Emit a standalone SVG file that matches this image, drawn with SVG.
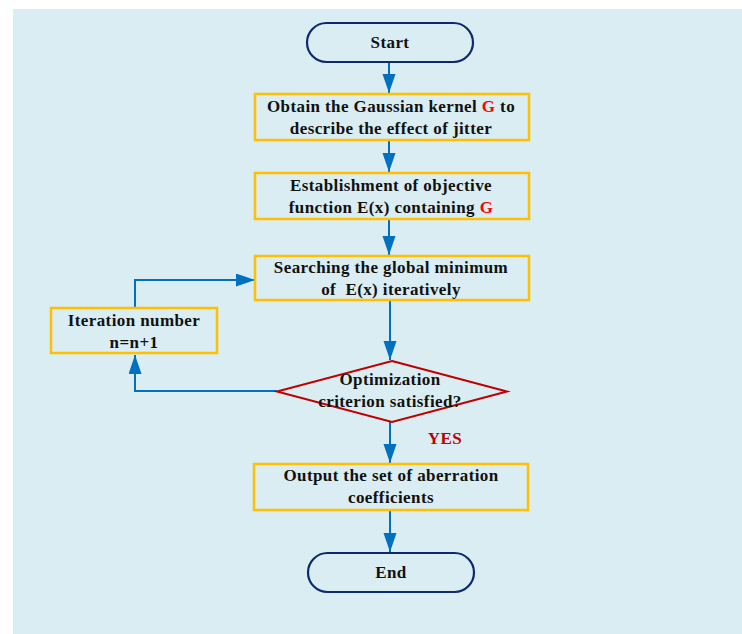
<svg xmlns="http://www.w3.org/2000/svg" width="742" height="634" viewBox="0 0 742 634">
<defs>
<style>
.bg{fill:#daedf3}
.term{fill:none;stroke:#0d2a6e;stroke-width:2.2}
.box{fill:none;stroke:#ffc000;stroke-width:2.5}
.dia{fill:none;stroke:#c00000;stroke-width:2}
.con{fill:none;stroke:#0070c0;stroke-width:2}
text{font-family:"Liberation Serif","Times New Roman",serif;font-weight:bold;font-size:17px;letter-spacing:0.4px;fill:#111;text-anchor:middle;white-space:pre}
.red{fill:#ff0000}
.yes{fill:#c00000}
</style>
<marker id="ah" markerUnits="userSpaceOnUse" markerWidth="20" markerHeight="14" refX="19" refY="6.5" orient="auto">
<path d="M0,0 L19,6.5 L0,13 Z" fill="#0070c0"/>
</marker>
</defs>
<rect class="bg" x="13" y="9" width="729" height="625"/>
<g id="connectors">
<path class="con" d="M389,62 V93" marker-end="url(#ah)"/>
<path class="con" d="M389,140 V172" marker-end="url(#ah)"/>
<path class="con" d="M389,219 V255" marker-end="url(#ah)"/>
<path class="con" d="M390,300 V360" marker-end="url(#ah)"/>
<path class="con" d="M390,422 V463" marker-end="url(#ah)"/>
<path class="con" d="M390,510 V552" marker-end="url(#ah)"/>
<path class="con" d="M277,391 H135 V355" marker-end="url(#ah)"/>
<path class="con" d="M135,308 V280 H255" marker-end="url(#ah)"/>
</g>
<g id="start">
<rect class="term" x="307" y="23" width="166" height="39" rx="19.5"/>
<text x="390" y="48">Start</text>
</g>
<g id="kernel">
<rect class="box" x="255" y="94" width="274" height="46"/>
<text x="391" y="112">Obtain the Gaussian kernel <tspan class="red">G</tspan> to</text>
<text x="391" y="134">describe the effect of jitter</text>
</g>
<g id="objective">
<rect class="box" x="255" y="173" width="274" height="46"/>
<text x="391" y="191">Establishment of objective</text>
<text x="391" y="213">function E(x) containing <tspan class="red">G</tspan></text>
</g>
<g id="search">
<rect class="box" x="255" y="256" width="274" height="44"/>
<text x="391" y="273">Searching the global minimum</text>
<text x="391" y="295">of  E(x) iteratively</text>
</g>
<g id="iteration">
<rect class="box" x="51" y="308" width="166" height="45"/>
<text x="134" y="326">Iteration number</text>
<text x="134" y="348">n=n+1</text>
</g>
<g id="criterion">
<polygon class="dia" points="392,361 507,391.5 392,422 277,391.5"/>
<text x="390" y="385">Optimization</text>
<text x="390" y="407">criterion satisfied?</text>
</g>
<g id="yes-label">
<text class="yes" x="445" y="444">YES</text>
</g>
<g id="output">
<rect class="box" x="254" y="464" width="274" height="46"/>
<text x="391" y="481">Output the set of aberration</text>
<text x="391" y="503">coefficients</text>
</g>
<g id="end">
<rect class="term" x="308" y="553" width="166" height="39" rx="19.5"/>
<text x="391" y="578">End</text>
</g>
</svg>
